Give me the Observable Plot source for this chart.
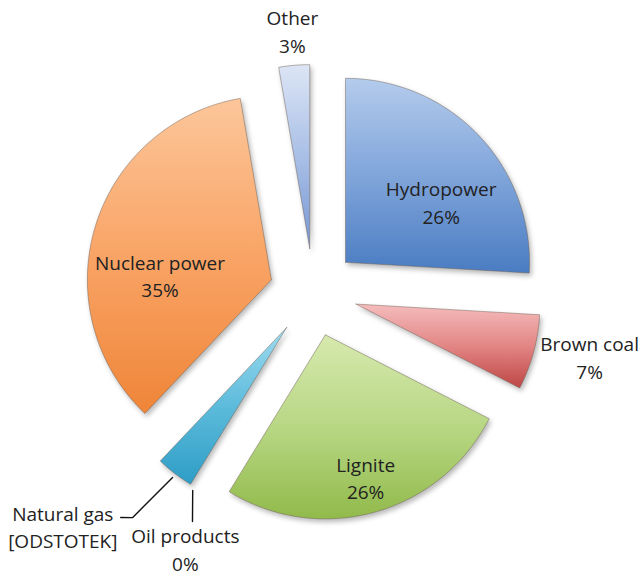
<!DOCTYPE html>
<html><head><meta charset="utf-8">
<script src="https://cdn.jsdelivr.net/npm/d3@7"></script>
<script src="https://cdn.jsdelivr.net/npm/@observablehq/plot@0.6"></script>
<style>html,body{margin:0;padding:0;background:#fff;}</style>
</head><body><div id="chart"></div>
<script>
// ---- data ----
const names = ["Hydropower", "Brown coal", "Lignite", "Oil products", "Natural gas", "Nuclear power", "Other"];
const shares = [25.9, 6.6, 26.2, 0, 3.3, 35.2, 2.7];
const valueLabels = ["26%", "7%", "26%", "0%", "[ODSTOTEK]", "35%", "3%"];

// ---- styles (one gradient per category, same order as names) ----
const gradientStops = [
  ["#b4cbec", "#80a5da", "#4a7cc2"],
  ["#f5bcbc", "#e38585", "#bd4744"],
  ["#d6e9ae", "#b8d784", "#91ba4b"],
  ["#d6b3e6", "#b07fcc", "#8a5cb0"],
  ["#9edcf0", "#5dbbdb", "#2e9dc6"],
  ["#fcc69a", "#f9a466", "#ef8538"],
  ["#dce5f5", "#a9bfe6", "#7696d2"]
];
// label placement: [angle in degrees clockwise from 12 o'clock, distance in radii]
const labelLayout = {
  "Hydropower": [54.4, 0.853],
  "Brown coal": [103, 1.54],
  "Lignite": [164.2, 1.04],
  "Oil products": [206.6, 1.555],
  "Natural gas": [227.1, 1.86],
  "Nuclear power": [276.7, 0.84],
  "Other": [355.4, 1.43]
};
// leader lines: list of [angle, distance] points
const leaderLayout = {
  "Oil products": [[211.4, 1.26], [207.85, 1.408]],
  "Natural gas": [[217.3, 1.264], [218.8, 1.57], [220.6, 1.61]]
};

const W = 644, H = 577, cx = 313, cy = 292, R = 184, explode = 44 / 184;
const rad = d => d * Math.PI / 180;
const polar = ([a, r]) => ({x: r * Math.sin(rad(a)), y: r * Math.cos(rad(a))});

const total = d3.sum(shares);
let acc = 0;
const slices = names.map((name, i) => {
  const a0 = acc / total * 2 * Math.PI;
  acc += shares[i];
  const a1 = acc / total * 2 * Math.PI;
  return {name, i, a0, a1, mid: (a0 + a1) / 2};
});

function slicePoints(s) {
  const out = [];
  const ex = explode * Math.sin(s.mid), ey = explode * Math.cos(s.mid);
  out.push({x: ex, y: ey});
  const n = Math.max(2, Math.ceil((s.a1 - s.a0) / rad(1)));
  for (let k = 0; k <= n; k++) {
    const t = s.a0 + (s.a1 - s.a0) * k / n;
    out.push({x: ex + Math.sin(t), y: ey + Math.cos(t)});
  }
  out.push({x: ex, y: ey});
  return out;
}

const sliceMarks = slices.filter(s => s.a1 > s.a0).map(s =>
  Plot.line(slicePoints(s), {x: "x", y: "y", fill: `url(#g${s.i})`, stroke: "#6a5a50", strokeOpacity: 0.45, strokeWidth: 1, strokeLinejoin: "round", curve: "linear", className: "slice"})
);

const labels = names.map((n, i) => ({text: n + "\n" + valueLabels[i], ...polar(labelLayout[n])}));
const leaders = [];
for (const [n, arr] of Object.entries(leaderLayout)) for (const p of arr) leaders.push({name: n, ...polar(p)});

const svg = Plot.plot({
  width: W, height: H,
  marginTop: 0, marginRight: 0, marginBottom: 0, marginLeft: 0,
  style: {fontFamily: "'Open Sans', sans-serif", background: "#fff"},
  x: {domain: [(0 - cx) / R, (W - cx) / R], axis: null},
  y: {domain: [(cy - H) / R, cy / R], axis: null},
  marks: [
    ...sliceMarks,
    Plot.line(leaders, {x: "x", y: "y", z: "name", stroke: "#111", strokeWidth: 1.4}),
    Plot.text(labels, {x: "x", y: "y", text: "text", fontSize: 19, lineHeight: 1.45, fill: "#222", textAnchor: "middle", lineAnchor: "middle"})
  ]
});

const ns = "http://www.w3.org/2000/svg";
const defs = document.createElementNS(ns, "defs");
gradientStops.forEach((stops, i) => {
  const g = document.createElementNS(ns, "linearGradient");
  g.setAttribute("id", "g" + i);
  g.setAttribute("x1", "0"); g.setAttribute("y1", "0"); g.setAttribute("x2", "0"); g.setAttribute("y2", "1");
  stops.forEach((c, k) => {
    const st = document.createElementNS(ns, "stop");
    st.setAttribute("offset", (k / (stops.length - 1) * 100) + "%");
    st.setAttribute("stop-color", c);
    g.appendChild(st);
  });
  defs.appendChild(g);
});
svg.insertBefore(defs, svg.firstChild);
svg.querySelectorAll(".slice path").forEach(p => p.style.filter = "drop-shadow(2px 3px 2.5px rgba(0,0,0,0.28))");
document.getElementById("chart").appendChild(svg);
</script>
</body></html>
